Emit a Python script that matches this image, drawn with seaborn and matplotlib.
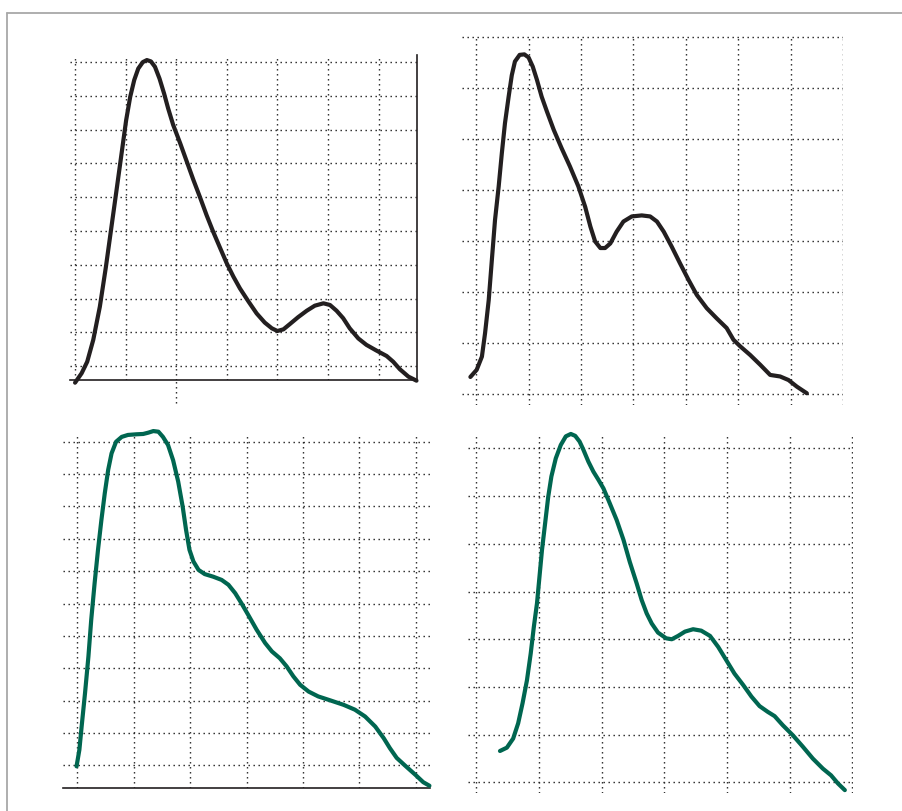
import numpy as np
import pandas as pd
import matplotlib
matplotlib.use("Agg")
import matplotlib.pyplot as plt
from matplotlib.lines import Line2D
import seaborn as sns

# ---- data (in grid units) ----
tl_x = [0.00, 0.13, 0.24, 0.36, 0.49, 0.61, 0.72, 0.82, 0.92, 1.01, 1.09, 1.17, 1.25, 1.34,
        1.42, 1.50, 1.58, 1.67, 1.76, 1.84, 1.94, 2.08, 2.21, 2.34, 2.47, 2.60, 2.73, 2.87,
        3.00, 3.13, 3.26, 3.43, 3.59, 3.75, 3.89, 4.00, 4.12, 4.25, 4.41, 4.58, 4.74, 4.91,
        5.04, 5.17, 5.30, 5.43, 5.60, 5.76, 5.96, 6.16, 6.29, 6.42, 6.59, 6.75]
tl_y = [0.51, 0.79, 1.13, 1.78, 2.76, 3.94, 5.13, 6.21, 7.30, 8.28, 8.97, 9.47, 9.81, 10.00,
        10.06, 10.02, 9.86, 9.51, 9.07, 8.63, 8.14, 7.59, 7.05, 6.51, 6.00, 5.47, 4.98, 4.49,
        4.04, 3.65, 3.30, 2.91, 2.56, 2.29, 2.12, 2.04, 2.09, 2.25, 2.45, 2.64, 2.79, 2.86,
        2.81, 2.64, 2.42, 2.12, 1.82, 1.63, 1.46, 1.30, 1.13, 0.91, 0.69, 0.57]

tr_x = [-0.11, 0.01, 0.11, 0.17, 0.24, 0.30, 0.36, 0.43, 0.49, 0.55, 0.62, 0.68, 0.74, 0.83,
        0.92, 1.00, 1.08, 1.16, 1.25, 1.35, 1.48, 1.63, 1.79, 1.95, 2.08, 2.18, 2.27, 2.37,
        2.46, 2.56, 2.68, 2.81, 2.97, 3.16, 3.32, 3.45, 3.58, 3.73, 3.89, 4.05, 4.21, 4.40,
        4.59, 4.78, 4.91, 5.04, 5.23, 5.42, 5.61, 5.80, 5.96, 6.12, 6.31]
tr_y = [0.33, 0.47, 0.73, 1.19, 1.84, 2.63, 3.41, 4.07, 4.72, 5.31, 5.83, 6.25, 6.52, 6.65,
        6.66, 6.60, 6.42, 6.16, 5.83, 5.54, 5.18, 4.82, 4.46, 4.07, 3.67, 3.28, 2.99, 2.86,
        2.86, 2.95, 3.18, 3.38, 3.48, 3.50, 3.48, 3.38, 3.18, 2.89, 2.56, 2.24, 1.94, 1.68,
        1.48, 1.29, 1.06, 0.93, 0.76, 0.57, 0.37, 0.34, 0.27, 0.14, 0.01]

bl_x = [-0.01, 0.04, 0.08, 0.14, 0.20, 0.25, 0.31, 0.37, 0.43, 0.49, 0.55, 0.61, 0.69, 0.79,
        0.90, 1.05, 1.17, 1.26, 1.35, 1.44, 1.52, 1.61, 1.70, 1.79, 1.87, 1.93, 1.99, 2.06,
        2.15, 2.26, 2.41, 2.56, 2.68, 2.80, 2.91, 3.03, 3.18, 3.33, 3.45, 3.59, 3.71, 3.83,
        3.95, 4.10, 4.27, 4.48, 4.72, 4.92, 5.10, 5.28, 5.43, 5.54, 5.66, 5.81, 5.99, 6.13, 6.24]
bl_y = [-0.03, 0.48, 1.20, 2.23, 3.36, 4.50, 5.63, 6.66, 7.58, 8.41, 9.13, 9.64, 10.00, 10.15,
        10.21, 10.23, 10.24, 10.28, 10.33, 10.31, 10.15, 9.90, 9.43, 8.77, 7.99, 7.27, 6.66, 6.30,
        6.04, 5.91, 5.83, 5.73, 5.58, 5.32, 5.01, 4.65, 4.19, 3.78, 3.52, 3.31, 3.06, 2.75,
        2.49, 2.28, 2.13, 2.01, 1.87, 1.72, 1.51, 1.20, 0.84, 0.53, 0.23, -0.01, -0.29, -0.52, -0.63]

br_x = [0.38, 0.49, 0.59, 0.67, 0.74, 0.81, 0.87, 0.92, 0.97, 1.01, 1.05, 1.10, 1.15, 1.20,
        1.27, 1.35, 1.43, 1.51, 1.58, 1.65, 1.71, 1.79, 1.87, 1.95, 2.03, 2.13, 2.24, 2.35,
        2.45, 2.56, 2.64, 2.72, 2.80, 2.90, 3.03, 3.12, 3.22, 3.33, 3.46, 3.59, 3.73, 3.86,
        3.99, 4.12, 4.26, 4.39, 4.52, 4.65, 4.76, 4.89, 5.05, 5.21, 5.37, 5.53, 5.66, 5.77, 5.88]
br_y = [0.66, 0.73, 0.92, 1.24, 1.66, 2.14, 2.70, 3.26, 3.75, 4.31, 4.87, 5.43, 5.99, 6.41,
        6.79, 7.07, 7.25, 7.30, 7.26, 7.14, 6.97, 6.72, 6.51, 6.34, 6.16, 5.85, 5.50, 5.08,
        4.62, 4.17, 3.82, 3.54, 3.33, 3.14, 3.02, 3.00, 3.07, 3.16, 3.21, 3.18, 3.07, 2.84,
        2.56, 2.28, 2.04, 1.80, 1.60, 1.48, 1.39, 1.20, 0.99, 0.75, 0.50, 0.29, 0.15, -0.02, -0.16]

BLACK = "#231f20"
GREEN = "#006650"
GRID = "#1e1e1e"
GRID_LS = (0, (1, 2.6))

sns.set_style("white")
fig = plt.figure(figsize=(9.03, 8.11), dpi=100)

W, H = 903.0, 811.0
def add_ax(x0, x1, y0, y1):
    return fig.add_axes([x0 / W, (H - y1) / H, (x1 - x0) / W, (y1 - y0) / H])

panels = [
    ((70, 417, 55, 380), (-0.10, 6.76), (0.59, 10.21), range(0, 7), range(1, 11),
     (tl_x, tl_y), BLACK, ["right", "bottom"]),
    ((462, 843, 35, 405), (-0.27, 7.00), (-0.22, 7.04), range(0, 8), range(0, 8),
     (tr_x, tr_y), BLACK, []),
    ((63, 430, 433, 788), (-0.25, 6.25), (-0.70, 10.27), range(0, 7), range(0, 11),
     (bl_x, bl_y), GREEN, ["bottom"]),
    ((468, 853, 433, 793), (-0.13, 6.01), (-0.22, 7.32), range(0, 7), range(0, 8),
     (br_x, br_y), GREEN, []),
]

axes = []
for box, xl, yl, gx, gy, (xs, ys), col, spines in panels:
    ax = add_ax(*box)
    axes.append(ax)
    df = pd.DataFrame({"x": xs, "y": ys})
    sns.lineplot(data=df, x="x", y="y", ax=ax, sort=False, estimator=None,
                 color=col, linewidth=3.0, solid_capstyle="round",
                 solid_joinstyle="round", zorder=5)
    for line in ax.get_lines():
        line.set_clip_on(False)
    ax.set_xlim(*xl)
    ax.set_ylim(*yl)
    ax.set_xticks(list(gx))
    ax.set_yticks(list(gy))
    ax.tick_params(length=0, labelbottom=False, labelleft=False)
    ax.set_xlabel("")
    ax.set_ylabel("")
    ax.grid(True, color=GRID, linestyle=GRID_LS, linewidth=1.0)
    ax.set_axisbelow(True)
    for s in ["left", "right", "top", "bottom"]:
        ax.spines[s].set_visible(s in spines)
        ax.spines[s].set_color(BLACK)
        ax.spines[s].set_linewidth(1.2)
    ax.patch.set_alpha(0)

# extended grid line below the top-left axis
axes[0].plot([2, 2], [-0.09, 0.59], color=GRID, linestyle=GRID_LS,
             linewidth=1.0, clip_on=False)

# figure frame (top and left edges)
fig.add_artist(Line2D([7 / W, 7 / W], [0, (H - 13) / H], color="#a8a8a8", linewidth=1.3))
fig.add_artist(Line2D([7 / W, 1], [(H - 13) / H, (H - 13) / H], color="#a8a8a8", linewidth=1.3))

fig.savefig("out.png", dpi=100)
